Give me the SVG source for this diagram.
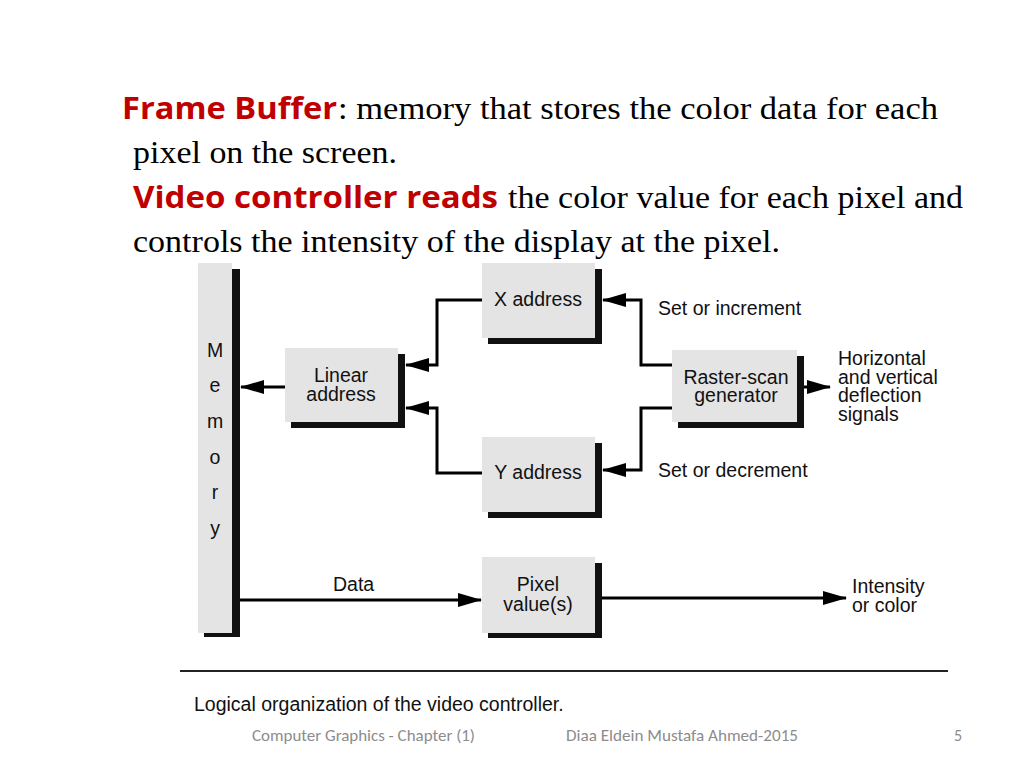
<svg xmlns="http://www.w3.org/2000/svg" width="1024" height="768" viewBox="0 0 1024 768">
<defs>
<marker id="ahb" markerWidth="24" markerHeight="14" refX="23" refY="7" orient="auto" markerUnits="userSpaceOnUse" viewBox="0 0 24 14"><path d="M0,0 L24,7 L0,14 Z" fill="#000"/></marker>
</defs>
<style>
.box{fill:#e4e4e4}
.sh{fill:#111}
.t{font-family:"Liberation Sans",Arial,sans-serif;font-size:19.5px;fill:#111}
.c{fill:none;stroke:#000;stroke-width:3}
.serif{font-family:"Liberation Serif","Times New Roman",serif;font-size:32px;fill:#000}
.red{font-family:"Open Sans","Liberation Sans",sans-serif;font-weight:bold;font-size:30px;fill:#c00000}
</style>
<rect width="1024" height="768" fill="#fff"/>
<g id="text">
<text x="122" y="119" class="red" textLength="215" lengthAdjust="spacingAndGlyphs">Frame Buffer</text>
<text x="338" y="119" class="serif" textLength="600" lengthAdjust="spacingAndGlyphs">:  memory that stores the color data for each</text>
<text x="133" y="163" class="serif" textLength="264" lengthAdjust="spacingAndGlyphs">pixel on the screen.</text>
<text x="133" y="208" class="red" textLength="365" lengthAdjust="spacingAndGlyphs">Video controller reads</text>
<text x="508" y="208" class="serif" textLength="455" lengthAdjust="spacingAndGlyphs">the color value for each pixel and</text>
<text x="133" y="252" class="serif" textLength="647" lengthAdjust="spacingAndGlyphs">controls the intensity of the display at the pixel.</text>
</g>
<g id="memory">
<rect class="sh" x="204" y="269" width="36" height="368"/>
<rect class="box" x="198" y="263" width="34" height="370" fill="#d6d6d6"/>
<g class="t" text-anchor="middle"><text x="215" y="357">M</text><text x="215" y="392">e</text><text x="215" y="428">m</text><text x="215" y="464">o</text><text x="215" y="499">r</text><text x="215" y="535">y</text></g>
</g>
<g id="linear">
<rect class="sh" x="291" y="354" width="114" height="74"/>
<rect class="box" x="285" y="348" width="113" height="74"/>
<text class="t" text-anchor="middle" x="341" y="382">Linear</text>
<text class="t" text-anchor="middle" x="341" y="401">address</text>
</g>
<g id="xaddr">
<rect class="sh" x="488" y="269" width="114" height="75"/>
<rect class="box" x="482" y="263" width="113" height="75"/>
<text class="t" text-anchor="middle" x="538" y="306">X  address</text>
</g>
<g id="yaddr">
<rect class="sh" x="488" y="443" width="114" height="75"/>
<rect class="box" x="482" y="437" width="113" height="75"/>
<text class="t" text-anchor="middle" x="538" y="479">Y  address</text>
</g>
<g id="pixel">
<rect class="sh" x="488" y="563" width="114" height="75"/>
<rect class="box" x="482" y="557" width="113" height="76"/>
<text class="t" text-anchor="middle" x="538" y="591">Pixel</text>
<text class="t" text-anchor="middle" x="538" y="611">value(s)</text>
</g>
<g id="raster">
<rect class="sh" x="678" y="356" width="126" height="72"/>
<rect class="box" x="672" y="350" width="125" height="72"/>
<text class="t" text-anchor="middle" x="736" y="384">Raster-scan</text>
<text class="t" text-anchor="middle" x="736" y="402">generator</text>
</g>
<g id="connectors">
<path class="c" d="M285,387 H241" marker-end="url(#ahb)"/>
<path class="c" d="M482,300 H437 V365 H406" marker-end="url(#ahb)"/>
<path class="c" d="M482,473 H437 V408 H406" marker-end="url(#ahb)"/>
<path class="c" d="M672,365 H641 V300 H603" marker-end="url(#ahb)"/>
<path class="c" d="M672,408 H641 V470 H603" marker-end="url(#ahb)"/>
<path class="c" d="M804,387 H830" marker-end="url(#ahb)"/>
<path class="c" d="M240,600 H481" marker-end="url(#ahb)"/>
<path class="c" d="M602,598 H846" marker-end="url(#ahb)"/>
</g>
<g id="labels" class="t">
<text x="658" y="315">Set or increment</text>
<text x="658" y="477">Set or decrement</text>
<text x="838" y="365">Horizontal</text>
<text x="838" y="384">and vertical</text>
<text x="838" y="402">deflection</text>
<text x="838" y="421">signals</text>
<text x="333" y="591">Data</text>
<text x="852" y="593">Intensity</text>
<text x="852" y="612">or color</text>
</g>
<line x1="180" y1="671" x2="948" y2="671" stroke="#222" stroke-width="2"/>
<text x="194" y="711" class="t">Logical organization of the video controller.</text>
<g font-family="Carlito,'Liberation Sans',sans-serif" font-size="16" fill="#8c8c8c">
<text x="252" y="741" textLength="223" lengthAdjust="spacingAndGlyphs">Computer Graphics - Chapter (1)</text>
<text x="566" y="741" textLength="232" lengthAdjust="spacingAndGlyphs">Diaa Eldein Mustafa Ahmed-2015</text>
<text x="954" y="741">5</text>
</g>
</svg>
